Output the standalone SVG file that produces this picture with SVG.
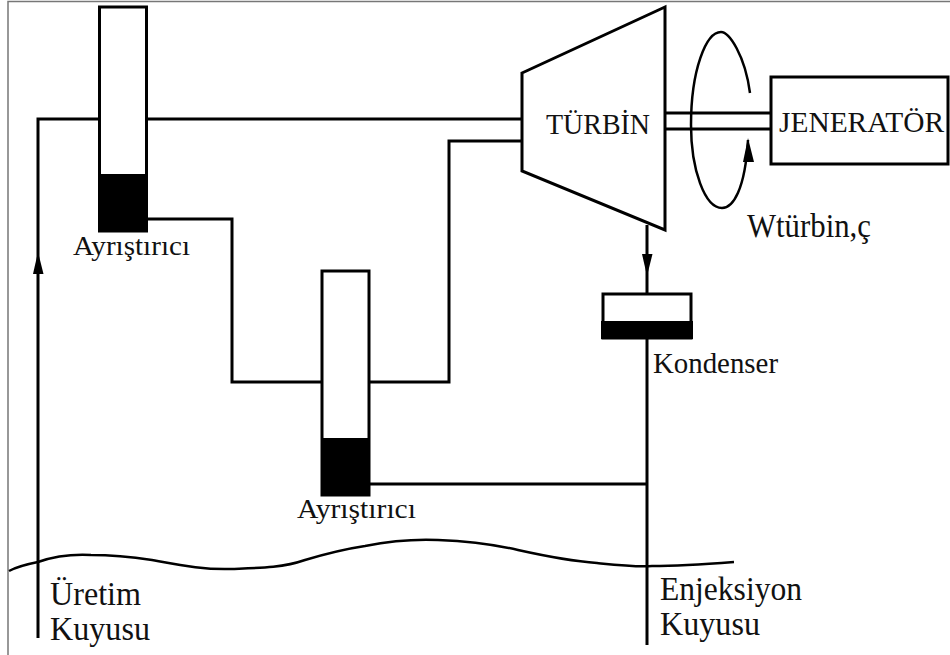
<svg xmlns="http://www.w3.org/2000/svg" width="950" height="655" viewBox="0 0 950 655">
<style>
.l{fill:none;stroke:#000;stroke-width:3;stroke-linejoin:miter}
.b{fill:#fff;stroke:#000;stroke-width:3}
.k{fill:#000;stroke:none}
.t{font-family:"Liberation Serif","Times New Roman",serif;fill:#111}
</style>
<rect width="950" height="655" fill="#fff"/>
<path id="frame" d="M8 655V1.500H950" fill="none" stroke="#777" stroke-width="1.500"/>
<g id="connectors">
<path class="l" d="M38 638V119H99M146 119H522"/>
<path class="l" d="M146 219H232V382H322"/>
<path class="l" d="M370 382H449V141H522"/>
<path class="l" d="M370 484H647"/>
<path class="l" d="M647 225V294M647 338V645"/>
<path class="l" d="M666 113H771M666 129H771"/>
<path class="k" d="M38 252L43.500 274H33Z"/>
<path class="k" d="M647 276L642 254H652.500Z"/>
<path d="M750 93C745 55 729 32 721 32C706 32 691 70 691 125C691 170 705 208 722 208C733 208 745 190 748 140" fill="none" stroke="#000" stroke-width="2.500"/>
<path class="k" d="M748 138L754 162H743Z"/>
<path d="M9 571C18 566 28 564 38 562C55 556 72 554 91 555C112 555 132 557 152 560C180 565 205 570 231 569C258 568 282 568 305 560C325 554 345 549 365 546C390 541 415 539 438 540C465 541 492 544 518 550C545 556 570 561 597 563C617 565 635 567 652 566C680 566 708 564 734 562" fill="none" stroke="#000" stroke-width="2.500"/>
</g>
<g id="ayristirici-1">
<rect class="b" x="99.500" y="7" width="47" height="224"/>
<rect class="k" x="98" y="174" width="49" height="58"/>
<text class="t" x="73" y="255" font-size="27" textLength="117" lengthAdjust="spacingAndGlyphs">Ayrıştırıcı</text>
</g>
<g id="ayristirici-2">
<rect class="b" x="322" y="271" width="47" height="224"/>
<rect class="k" x="321" y="438" width="49" height="58"/>
<text class="t" x="297" y="518" font-size="27" textLength="119" lengthAdjust="spacingAndGlyphs">Ayrıştırıcı</text>
</g>
<g id="turbin">
<path class="b" d="M522 73L665 7V230L522 171Z"/>
<text class="t" x="546" y="134" font-size="30" textLength="104" lengthAdjust="spacingAndGlyphs">TÜRBİN</text>
</g>
<g id="jenerator">
<rect class="b" x="771" y="77" width="177" height="87"/>
<text class="t" x="779" y="132" font-size="29" textLength="165" lengthAdjust="spacingAndGlyphs">JENERATÖR</text>
</g>
<g id="kondenser">
<rect class="b" x="603" y="294" width="88" height="44"/>
<rect class="k" x="601" y="321" width="92" height="18"/>
<text class="t" x="653" y="373" font-size="30" textLength="125" lengthAdjust="spacingAndGlyphs">Kondenser</text>
</g>
<text class="t" x="747" y="237" font-size="34" textLength="124" lengthAdjust="spacingAndGlyphs">Wtürbin,ç</text>
<text class="t" x="50" y="605" font-size="34" textLength="91" lengthAdjust="spacingAndGlyphs">Üretim</text>
<text class="t" x="50" y="640" font-size="34" textLength="100" lengthAdjust="spacingAndGlyphs">Kuyusu</text>
<text class="t" x="660" y="600" font-size="34" textLength="142" lengthAdjust="spacingAndGlyphs">Enjeksiyon</text>
<text class="t" x="660" y="635" font-size="34" textLength="100" lengthAdjust="spacingAndGlyphs">Kuyusu</text>
</svg>
